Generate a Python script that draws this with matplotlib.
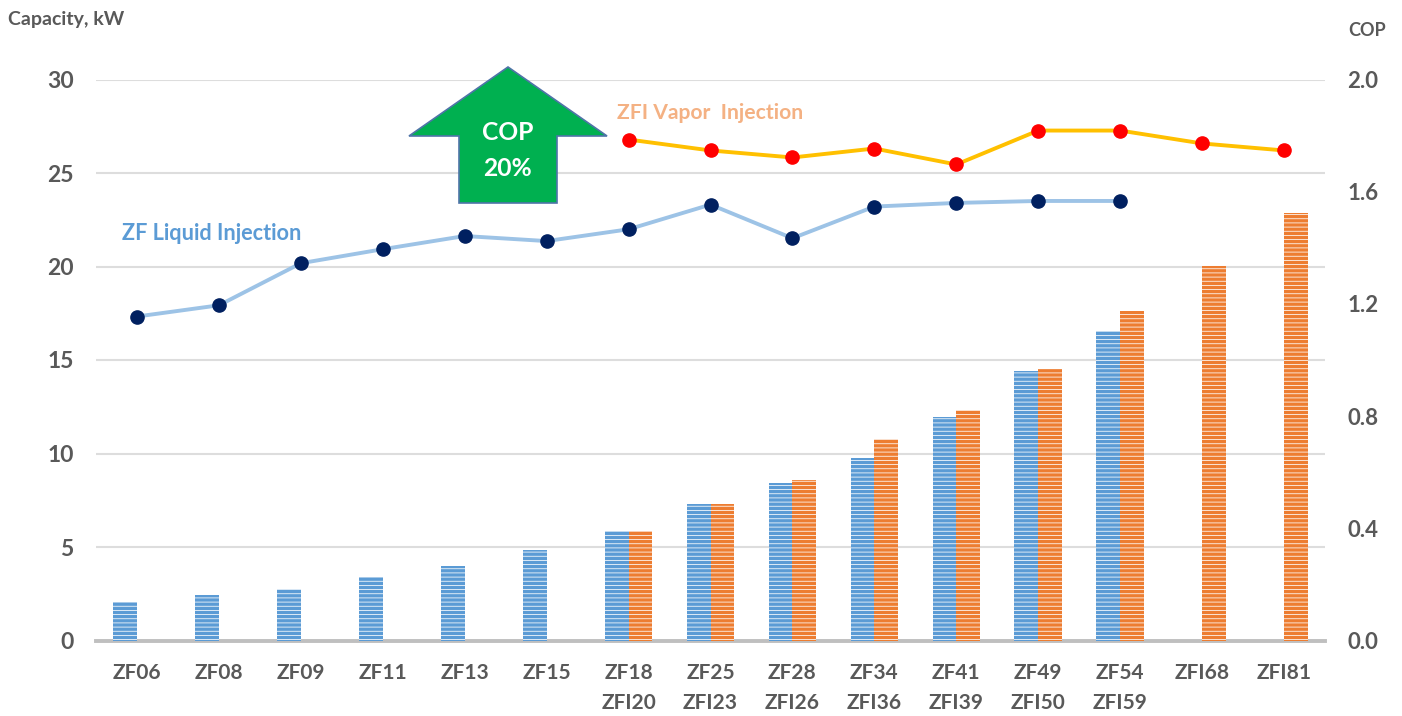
import matplotlib
matplotlib.use("Agg")
import matplotlib.pyplot as plt
from matplotlib.patches import Polygon

plt.rcParams['font.family'] = ['Lato', 'DejaVu Sans']
plt.rcParams['hatch.linewidth'] = 0.55

labels = ['ZF06', 'ZF08', 'ZF09', 'ZF11', 'ZF13', 'ZF15', 'ZF18\nZFI20', 'ZF25\nZFI23',
          'ZF28\nZFI26', 'ZF34\nZFI36', 'ZF41\nZFI39', 'ZF49\nZFI50', 'ZF54\nZFI59',
          'ZFI68', 'ZFI81']
zf_capacity = [2.05, 2.45, 2.75, 3.4, 4.0, 4.85, 5.85, 7.3, 8.4, 9.75, 11.95, 14.4, 16.55]
zfi_capacity = [5.85, 7.3, 8.6, 10.75, 12.35, 14.5, 17.6, 20.05, 22.85]
zf_cop = [1.155, 1.195, 1.345, 1.395, 1.442, 1.424, 1.466, 1.554, 1.434, 1.547, 1.56, 1.567, 1.567]
zfi_cop = [1.786, 1.747, 1.722, 1.754, 1.697, 1.818, 1.818, 1.772, 1.747]
capacity_ticks = [0, 5, 10, 15, 20, 25, 30]
cop_ticks = [0.0, 0.4, 0.8, 1.2, 1.6, 2.0]

W, H = 1402, 716
GREY = '#595959'
fig = plt.figure(figsize=(W / 100, H / 100), dpi=100)
L, R, T, B = 96, 1325, 79.5, 640.5
ax = fig.add_axes([L / W, 1 - B / H, (R - L) / W, (B - T) / H])
ax2 = ax.twinx()

x = list(range(len(labels)))
zfi_x = x[6:]
w = 0.29
ax.bar([i - w / 2 for i in x[:len(zf_capacity)]], zf_capacity, w, color='#5B9BD5',
       edgecolor='white', linewidth=0, hatch='----', zorder=3)
ax.bar([i + w / 2 for i in zfi_x], zfi_capacity, w, color='#ED7D31',
       edgecolor='white', linewidth=0, hatch='----', zorder=3)

ax.set_xlim(-0.5, len(labels) - 0.5)
ax.set_ylim(0, 30)
ax.set_yticks(capacity_ticks)
ax.grid(axis='y', color='#DDDDDD', lw=1.5, zorder=0)
ax.set_axisbelow(True)
ax.set_xticks(x)
ax.set_xticklabels(labels, fontsize=15, fontweight='bold', color=GREY, linespacing=1.67, va='top')
ax.tick_params(axis='x', length=0, pad=16)
ax.tick_params(axis='y', length=0, pad=16, labelsize=16.5, labelcolor=GREY)
for t in ax.get_yticklabels():
    t.set_fontweight('bold')
for s in ['top', 'left', 'right']:
    ax.spines[s].set_visible(False)
    ax2.spines[s].set_visible(False)
ax2.spines['bottom'].set_visible(False)
ax.spines['bottom'].set_color('#BFBFBF')
ax.spines['bottom'].set_linewidth(2.8)

ax2.set_ylim(0, 2)
ax2.set_yticks(cop_ticks)
ax2.set_yticklabels([f'{v:.1f}' for v in cop_ticks], fontsize=16, fontweight='bold', color=GREY)
ax2.tick_params(axis='y', length=0, pad=16)
ax2.plot(x[:len(zf_cop)], zf_cop, color='#9DC3E6', lw=2.8, marker='o', ms=9.5,
         mfc='#002060', mec='#002060', zorder=5)
ax2.plot(zfi_x, zfi_cop, color='#FFC000', lw=2.8, marker='o', ms=9.5,
         mfc='#FF0000', mec='#FF0000', zorder=5)


def fx(px):
    return px / W


def fy(py):
    return 1 - py / H


arrow_px = [(508, 67), (607, 136), (557, 136), (557, 203), (459, 203), (459, 136), (409, 136)]
fig.add_artist(Polygon([(fx(a), fy(b)) for a, b in arrow_px], closed=True, transform=fig.transFigure,
                       facecolor='#00B050', edgecolor='#4F74A8', lw=1.2, zorder=10))
fig.text(fx(508), fy(133), 'COP', color='white', fontsize=17.7, fontweight='bold', ha='center', va='center', zorder=11)
fig.text(fx(508), fy(169), '20%', color='white', fontsize=17.7, fontweight='bold', ha='center', va='center', zorder=11)
fig.text(fx(617), fy(113), 'ZFI Vapor  Injection', color='#F4B183', fontsize=15.2, fontweight='bold', ha='left', va='center')
fig.text(fx(122), fy(233), 'ZF Liquid Injection', color='#5B9BD5', fontsize=15.6, fontweight='bold', ha='left', va='center')
fig.text(fx(8), fy(20), 'Capacity, kW', color=GREY, fontsize=14, fontweight='bold', ha='left', va='center')
fig.text(fx(1348), fy(31), 'COP', color=GREY, fontsize=13, fontweight='bold', ha='left', va='center')

fig.savefig('out.png', dpi=100)
